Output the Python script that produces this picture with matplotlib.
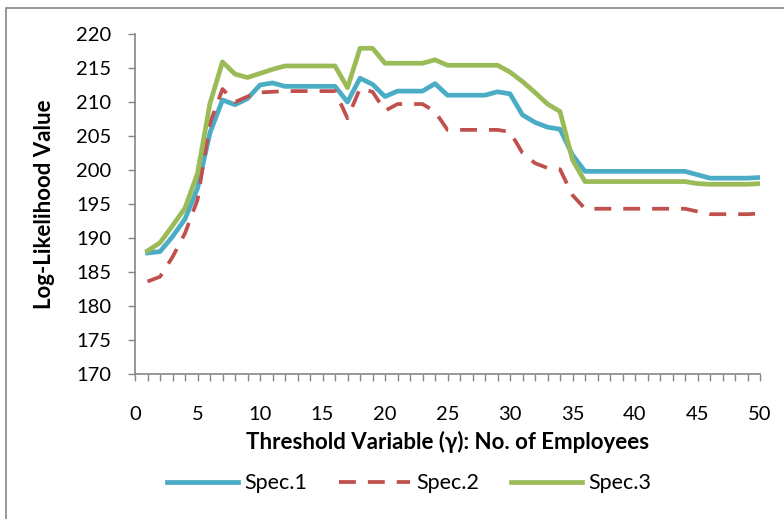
import numpy as np
import matplotlib
matplotlib.use("Agg")
import matplotlib.pyplot as plt
from matplotlib.patches import Rectangle
from matplotlib.ticker import MultipleLocator

plt.rcParams['font.family'] = ['Lato', 'DejaVu Sans']

# Threshold values (no. of employees)
gamma = list(range(1, 51))

# Log-likelihood values
spec1 = [187.8, 188.0, 190.2, 192.8, 197.3, 205.5, 210.3, 209.6, 210.5, 212.5,
         212.8, 212.3, 212.3, 212.3, 212.3, 212.3, 210.0, 213.5, 212.6, 210.8,
         211.6, 211.6, 211.6, 212.7, 211.0, 211.0, 211.0, 211.0, 211.5, 211.2,
         208.1, 207.0, 206.3, 206.0, 202.2, 199.8, 199.8, 199.8, 199.8, 199.8,
         199.8, 199.8, 199.8, 199.8, 199.3, 198.8, 198.8, 198.8, 198.8, 198.9]
spec2 = [183.6, 184.3, 187.2, 190.7, 195.6, 206.9, 211.9, 210.0, 210.8, 211.4,
         211.5, 211.6, 211.6, 211.6, 211.6, 211.6, 207.6, 212.0, 211.5, 208.7,
         209.7, 209.7, 209.7, 208.6, 205.9, 205.9, 205.9, 205.9, 205.9, 205.6,
         202.5, 201.0, 200.3, 200.1, 196.3, 194.3, 194.3, 194.3, 194.3, 194.3,
         194.3, 194.3, 194.3, 194.3, 193.9, 193.5, 193.5, 193.5, 193.5, 193.6]
spec3 = [188.1, 189.3, 191.8, 194.4, 199.5, 209.8, 215.9, 214.1, 213.6, 214.2,
         214.8, 215.3, 215.3, 215.3, 215.3, 215.3, 212.1, 217.9, 217.9, 215.7,
         215.7, 215.7, 215.7, 216.2, 215.4, 215.4, 215.4, 215.4, 215.4, 214.4,
         213.0, 211.4, 209.7, 208.6, 201.5, 198.3, 198.3, 198.3, 198.3, 198.3,
         198.3, 198.3, 198.3, 198.3, 198.0, 197.9, 197.9, 197.9, 197.9, 198.0]

axis_grey = '#868686'

fig = plt.figure(figsize=(7.84, 5.19), dpi=100)
ax = fig.add_axes([0.1722, 0.2794, 0.7972, 0.6551])

ax.plot(gamma, spec1, color='#4BACC6', lw=3.4, label='Spec.1', solid_joinstyle='round')
ax.plot(gamma, spec2, color='#C0504D', lw=2.7, dashes=(4.5, 3.2), label='Spec.2')
ax.plot(gamma, spec3, color='#9BBB59', lw=3.4, label='Spec.3', solid_joinstyle='round')

ax.set_xlim(0, 50)
ax.set_ylim(170, 220)
ax.xaxis.set_major_locator(MultipleLocator(5))
ax.xaxis.set_minor_locator(MultipleLocator(1))
ax.yaxis.set_major_locator(MultipleLocator(5))

for side in ['top', 'right']:
    ax.spines[side].set_visible(False)
for side in ['left', 'bottom']:
    ax.spines[side].set_color(axis_grey)
    ax.spines[side].set_linewidth(1.2)

ax.tick_params(axis='x', which='both', direction='out', length=5, width=1,
               color=axis_grey, labelsize=14.5, pad=18)
ax.tick_params(axis='y', which='major', direction='out', length=5, width=1,
               color=axis_grey, labelsize=14.5, pad=12)

ax.set_xlabel('Threshold Variable (γ): No. of Employees', fontsize=16,
              fontweight='bold', labelpad=6)
ax.set_ylabel('Log-Likelihood Value', fontsize=16, fontweight='bold', labelpad=15)

fig.legend(loc='center', bbox_to_anchor=(0.522, 0.069), ncol=3, frameon=False,
           fontsize=15.5, handlelength=3.3, handletextpad=0.28, columnspacing=1.5)

# chart border like the spreadsheet frame
fig.add_artist(Rectangle((0.0077, -0.1), 1.2, 1.0846, transform=fig.transFigure,
                         fill=False, edgecolor=axis_grey, lw=1.2))

fig.savefig('out.png', dpi=100)
